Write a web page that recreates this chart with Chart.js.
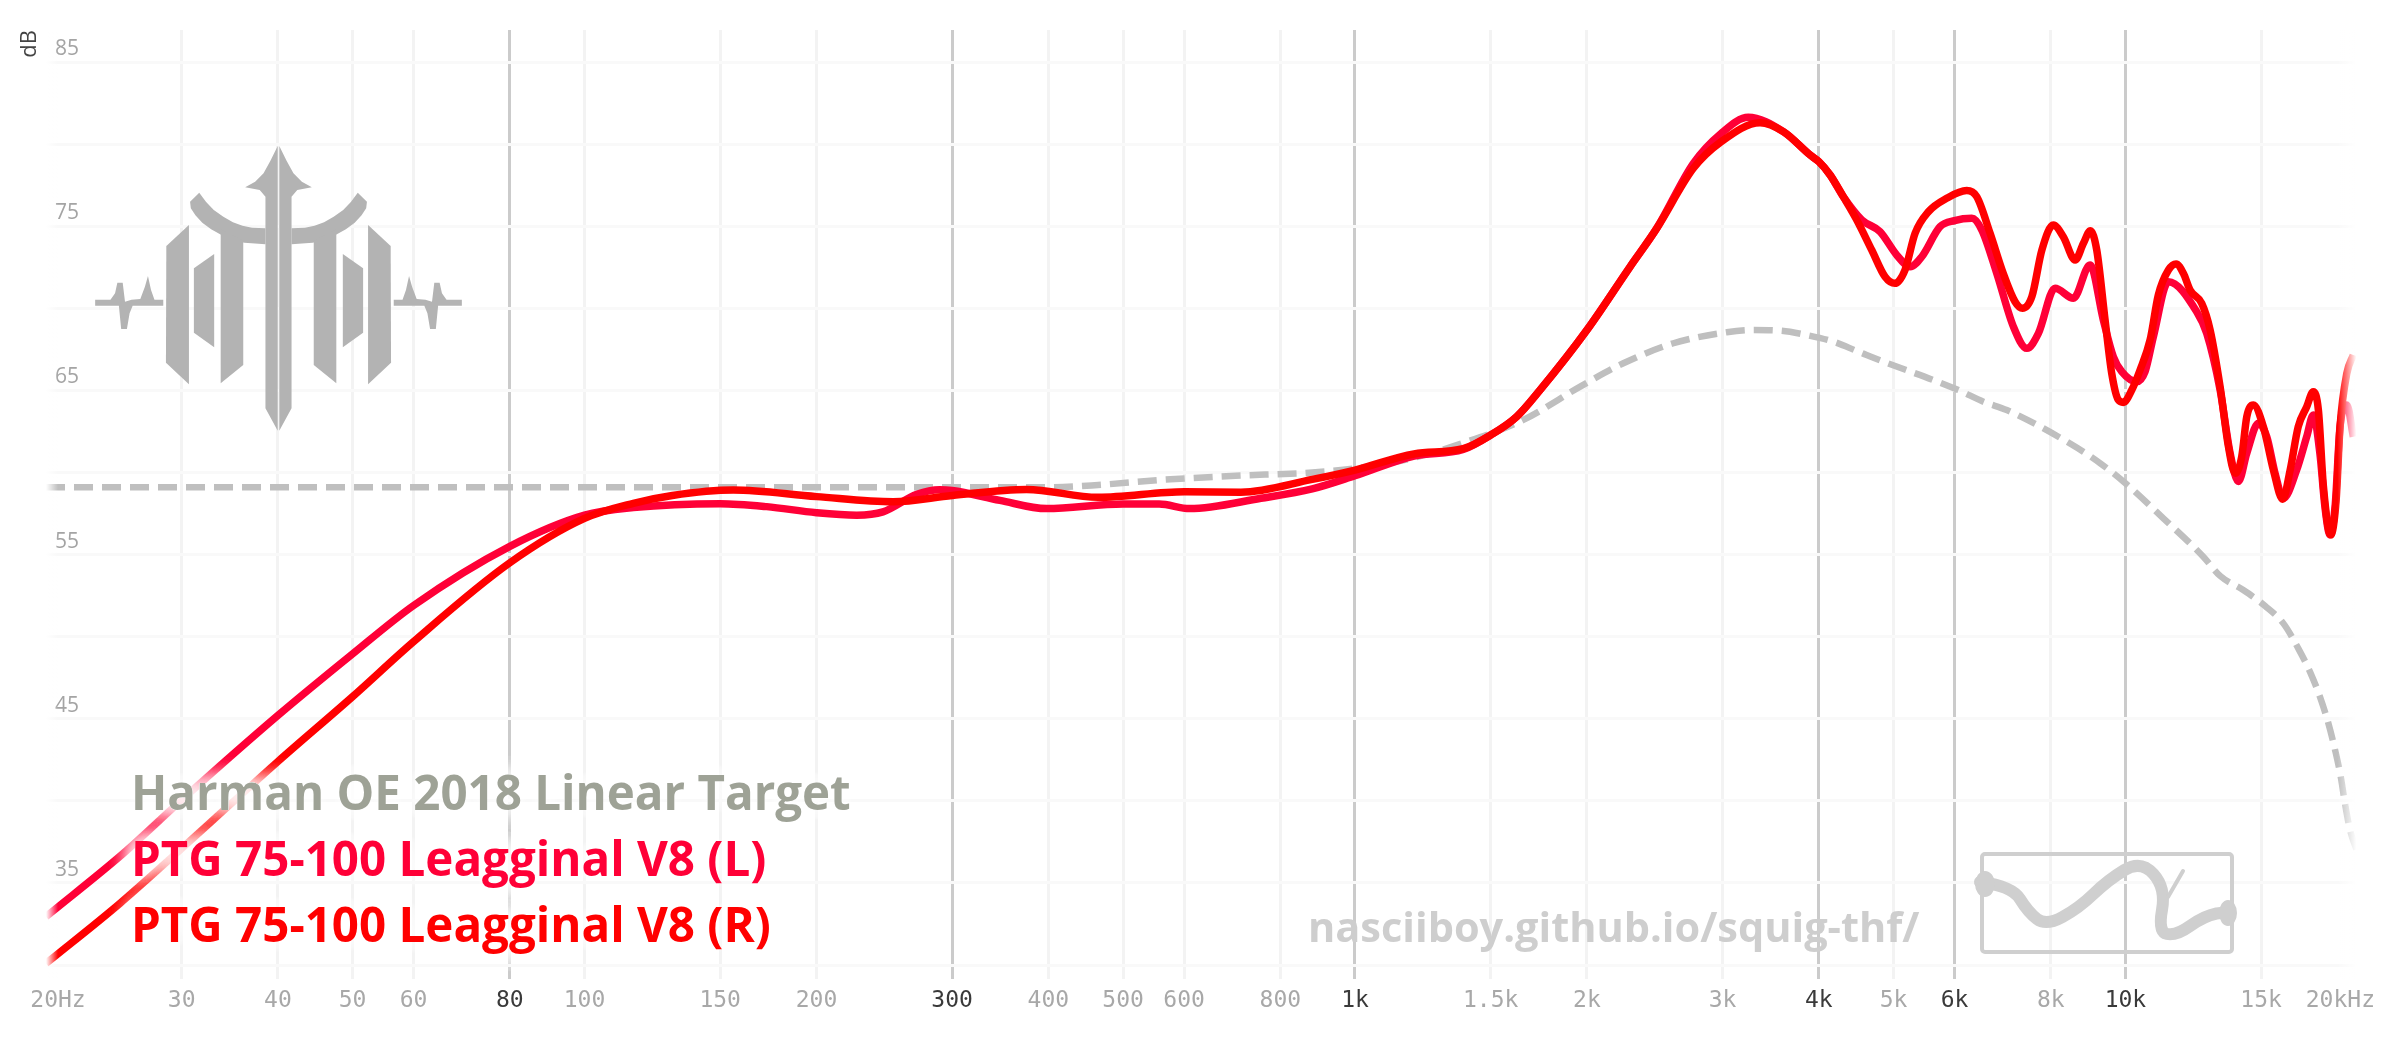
<!DOCTYPE html>
<html>
<head>
<meta charset="utf-8">
<title>PTG 75-100 Leagginal V8</title>
<style>
  html, body { margin: 0; padding: 0; background: #fff; }
  canvas { display: block; }
</style>
<script src="https://cdn.jsdelivr.net/npm/chart.js@4/dist/chart.umd.min.js"></script>
</head>
<body>
<canvas id="myChart" width="2400" height="1038"></canvas>
<script>
// series (Hz / dB)
const targetName = "Harman OE 2018 Linear Target";
const targetFreq = [20, 50, 100, 200, 400, 464, 557, 700, 880, 1000, 1193, 1382, 1654, 1960, 2230, 2590, 3038, 3289, 3562, 3858, 4177, 4500, 4850, 5633, 6069, 6540, 7014, 8484, 9275, 9938, 11200, 12620, 13270, 14220, 15180, 16030, 16760, 17360, 17880, 18340, 18710, 19030, 19270, 19570, 20000];
const targetDb = [59.1, 59.1, 59.1, 59.1, 59.1, 59.24, 59.54, 59.8, 60.0, 60.25, 60.9, 61.8, 63.2, 65.23, 66.65, 67.87, 68.54, 68.68, 68.64, 68.37, 67.97, 67.36, 66.75, 65.63, 65.02, 64.31, 63.8, 61.75, 60.56, 59.45, 57.21, 54.87, 53.7, 52.84, 51.87, 50.81, 49.29, 47.86, 46.35, 44.72, 43.1, 41.47, 39.85, 38.2, 36.9];

const leftName = "PTG 75-100 Leagginal V8 (L)";
const leftFreq = [20, 25.2, 30, 40, 50, 60, 80, 100, 115.7, 150, 172.3, 200, 225.5, 244, 270, 289, 300, 346, 398, 500, 557, 610, 755, 880, 1000, 1193, 1382, 1500, 1621, 1738, 2000, 2275, 2464, 2749, 2988, 3239, 3597, 3896, 4000, 4137, 4303, 4548, 4802, 5047, 5254, 5441, 5746, 6000, 6318, 6510, 6807, 7154, 7448, 7709, 8102, 8559, 8995, 9360, 9645, 9890, 10344, 10603, 10870, 11370, 12374, 12750, 13270, 13674, 14016, 14370, 14877, 15254, 15638, 16030, 16680, 17190, 17530, 17880, 18150, 18430, 18710, 18990, 19380, 19760];
const leftDb = [32.95, 36.8, 40.05, 45.2, 48.95, 51.9, 55.5, 57.4, 57.86, 58.1, 57.92, 57.55, 57.4, 57.6, 58.67, 58.95, 58.9, 58.3, 57.8, 58.08, 58.08, 57.8, 58.43, 59.0, 59.8, 61.0, 61.4, 62.28, 63.4, 65.02, 68.68, 72.53, 74.87, 78.83, 80.66, 81.63, 80.76, 79.34, 78.93, 78.12, 76.8, 75.38, 74.67, 73.25, 72.53, 73.14, 74.97, 75.34, 75.48, 74.77, 72.13, 68.88, 67.56, 68.47, 71.22, 70.61, 72.64, 69.29, 67.05, 66.14, 65.53, 66.14, 68.27, 71.62, 69.79, 68.47, 65.02, 61.17, 59.45, 61.17, 63.0, 62.18, 59.95, 58.43, 60.15, 62.18, 63.5, 61.17, 57.92, 56.2, 57.92, 62.79, 64.11, 62.18];

const rightName = "PTG 75-100 Leagginal V8 (R)";
const rightFreq = [20, 24.95, 30, 40, 50, 60, 80, 100, 115.7, 130, 156, 200, 251.6, 300, 374.7, 464, 601, 711, 880, 1000, 1193, 1382, 1500, 1621, 1738, 2000, 2275, 2464, 2749, 2988, 3355, 3597, 3896, 4000, 4137, 4303, 4480, 4685, 4875, 5021, 5174, 5333, 5549, 5861, 6223, 6412, 6673, 6940, 7190, 7350, 7560, 7790, 8060, 8305, 8604, 8820, 9005, 9178, 9409, 9598, 9790, 9938, 10190, 10447, 10764, 11033, 11370, 11633, 11890, 12130, 12560, 12880, 13270, 13605, 13880, 14155, 14370, 14655, 15100, 15560, 16000, 16360, 16760, 17190, 17530, 17800, 18070, 18470, 18770, 18990, 19380, 19760];
const rightDb = [30.1, 33.76, 37.1, 42.4, 46.35, 49.7, 54.5, 57.2, 58.12, 58.6, 58.93, 58.53, 58.22, 58.6, 58.97, 58.49, 58.83, 58.8, 59.58, 60.15, 61.13, 61.45, 62.28, 63.4, 65.02, 68.68, 72.53, 74.87, 78.53, 80.15, 81.3, 80.76, 79.34, 78.93, 78.12, 76.8, 75.38, 73.55, 71.92, 71.52, 72.33, 74.57, 75.88, 76.7, 77.17, 76.8, 74.57, 72.13, 70.4, 70.0, 70.71, 73.55, 75.07, 74.36, 72.94, 73.96, 74.73, 73.55, 69.29, 66.04, 64.42, 64.27, 65.02, 66.24, 68.07, 70.81, 72.33, 72.7, 72.13, 71.11, 70.3, 68.68, 65.22, 61.57, 59.95, 60.96, 63.4, 64.11, 62.79, 60.15, 58.37, 60.15, 62.79, 64.0, 64.92, 63.8, 59.14, 56.2, 58.33, 62.79, 66.04, 67.16];

// axes
const xTicks = [20, 30, 40, 50, 60, 80, 100, 150, 200, 300, 400, 500, 600, 800, 1000, 1500, 2000, 3000, 4000, 5000, 6000, 8000, 10000, 15000, 20000];
const xLabels = ["20Hz", "30", "40", "50", "60", "80", "100", "150", "200", "300", "400", "500", "600", "800", "1k", "1.5k", "2k", "3k", "4k", "5k", "6k", "8k", "10k", "15k", "20kHz"];
const xMajor = [80, 300, 1000, 4000, 6000, 10000];
const yTicks = [30, 35, 40, 45, 50, 55, 60, 65, 70, 75, 80, 85];
const yLabels = [35, 45, 55, 65, 75, 85];

function toPoints(freq, db) {
    return freq.map(function (f, i) { return { x: f, y: db[i] }; });
}

// polygons of the trident logo, left half only, given in crop pixels of the reference
const tridentParts = [
    [[727,438],[708,482],[690,520],[668,545],[642,562],[680,570],[695,590],[695,1225],[727,1292]],
    [[522,578],[540,606],[560,630],[585,650],[610,667],[635,677],[660,683],[695,685],[695,733],[640,728],[605,719],[580,705],[553,688],[530,668],[512,646],[500,625],[498,605]],
    [[578,688],[637,722],[637,1095],[578,1150]],
    [[495,675],[436,738],[435,1088],[495,1153]],
    [[561,762],[508,805],[508,998],[561,1042]],
    [[250,899],[290,899],[302,880],[308,848],[322,848],[328,905],[345,899],[368,897],[380,860],[388,828],[396,870],[405,899],[428,899],[428,917],[395,917],[375,917],[348,917],[340,940],[333,987],[318,987],[312,917],[295,917],[250,917]]
];

function drawTrident(ctx) {
    ctx.save();
    ctx.fillStyle = "#b3b3b3";
    [-1, 1].forEach(function (side) {
        tridentParts.forEach(function (part) {
            ctx.beginPath();
            part.forEach(function (p, i) {
                // mirrored around the 40Hz line, with a small gap left in the middle
                let dx = (727 - p[0]) / 2.613;
                let x = 278.5 + side * (dx + 0.8);
                let y = p[1] / 3;
                if (i == 0) ctx.moveTo(x, y); else ctx.lineTo(x, y);
            });
            ctx.closePath();
            ctx.fill();
        });
    });
    ctx.restore();
}

const squigglePts = [[1980,882],[2012,886],[2028,912],[2046,926],[2079,908],[2108,880],[2141,860],[2166,888],[2158,932],[2176,936],[2204,916],[2229,911]];

function drawSquigLogo(ctx) {
    ctx.save();
    ctx.strokeStyle = "#cfcfcf";
    ctx.lineWidth = 4;
    ctx.beginPath();
    ctx.roundRect(1982, 854, 250, 98, 3);
    ctx.stroke();
    ctx.lineWidth = 12;
    ctx.lineCap = "round";
    ctx.lineJoin = "round";
    ctx.beginPath();
    ctx.moveTo(squigglePts[0][0], squigglePts[0][1]);
    for (let i = 1; i < squigglePts.length - 1; i++) {
        let p = squigglePts[i], n = squigglePts[i + 1];
        ctx.quadraticCurveTo(p[0], p[1], (p[0] + n[0]) / 2, (p[1] + n[1]) / 2);
    }
    ctx.lineTo(2229, 912);
    ctx.stroke();
    ctx.fillStyle = "#cfcfcf";
    ctx.beginPath();
    ctx.ellipse(1985, 884, 10, 13, 0, 0, Math.PI * 2);
    ctx.ellipse(2228, 913, 9, 13, 0, 0, Math.PI * 2);
    ctx.fill();
    ctx.lineWidth = 4;
    ctx.beginPath();
    ctx.moveTo(2183, 871);
    ctx.lineTo(2168, 897);
    ctx.stroke();
    ctx.restore();
}

const decorPlugin = {
    id: "decor",
    beforeDraw(chart) {
        // the outer two x labels sit off their ticks in the original
        let items = chart.scales.x.getLabelItems(chart.chartArea);
        items[0].options.translation[0] += 12;
        items[items.length - 1].options.translation[0] -= 17;
    },
    beforeDatasetsDraw(chart) {
        let ctx = chart.ctx;
        drawTrident(ctx);
        drawSquigLogo(ctx);
        ctx.save();
        ctx.font = "bold 41.5px 'Open Sans'";
        ctx.fillStyle = "#cecece";
        ctx.textBaseline = "alphabetic";
        ctx.fillText("nasciiboy.github.io/squig-thf/", 1308, 942, 613);
        ctx.restore();
    },
    afterDatasetsDraw(chart) {
        let ctx = chart.ctx;
        let area = chart.chartArea;
        ctx.save();

        // curves fade out at both ends
        let fadeL = ctx.createLinearGradient(area.left, 0, area.left + 12, 0);
        fadeL.addColorStop(0, "rgba(255,255,255,1)");
        fadeL.addColorStop(1, "rgba(255,255,255,0)");
        ctx.fillStyle = fadeL;
        ctx.fillRect(area.left - 4, area.top, 16, area.bottom - area.top);
        let fadeR = ctx.createLinearGradient(area.right - 20, 0, area.right - 1, 0);
        fadeR.addColorStop(0, "rgba(255,255,255,0)");
        fadeR.addColorStop(1, "rgba(255,255,255,1)");
        ctx.fillStyle = fadeR;
        ctx.fillRect(area.right - 20, area.top, 24, area.bottom - area.top);

        // legend text with a white halo over the curves
        let names = [targetName, leftName, rightName];
        let baselines = [810, 876, 942];
        ctx.font = "bold 47.5px 'Open Sans'";
        ctx.textBaseline = "alphabetic";
        names.forEach(function (name, i) {
            ctx.shadowColor = "#fff";
            ctx.shadowBlur = 22;
            ctx.fillStyle = "#fff";
            for (let k = 0; k < 5; k++) ctx.fillText(name, 131, baselines[i]);
        });
        ctx.shadowBlur = 0;
        names.forEach(function (name, i) {
            ctx.fillStyle = chart.data.datasets[i].legendColor;
            ctx.fillText(name, 131, baselines[i]);
        });
        ctx.restore();
    }
};

var ctx = document.getElementById("myChart");

var myChart = new Chart(ctx, {
    type: "line",
    data: {
        datasets: [{
            label: targetName,
            data: toPoints(targetFreq, targetDb),
            borderColor: "#bfbfbf",
            legendColor: "#9ea296",
            borderWidth: 6.5,
            borderDash: [19, 9],
            order: 3
        }, {
            label: leftName,
            data: toPoints(leftFreq, leftDb),
            borderColor: "#ff0037",
            legendColor: "#ff0037",
            borderWidth: 7.5,
            order: 2
        }, {
            label: rightName,
            data: toPoints(rightFreq, rightDb),
            borderColor: "#ff0000",
            legendColor: "#ff0000",
            borderWidth: 7.5,
            order: 1
        }]
    },
    options: {
        responsive: false,
        animation: false,
        parsing: false,
        layout: { padding: { top: 30, right: 42.4, left: 0, bottom: 0 } },
        elements: {
            point: { radius: 0 },
            line: { cubicInterpolationMode: "monotone", borderCapStyle: "butt" }
        },
        plugins: { legend: { display: false }, tooltip: { enabled: false } },
        scales: {
            x: {
                type: "logarithmic",
                min: 20,
                max: 20000,
                afterBuildTicks: function (scale) {
                    scale.ticks = xTicks.map(function (v) { return { value: v }; });
                },
                afterFit: function (scale) { scale.height = 59; },
                border: { display: false },
                grid: {
                    drawTicks: false,
                    lineWidth: 3,
                    color: function (c) {
                        if (c.tick.value == 20 || c.tick.value == 20000) return "rgba(0,0,0,0)";
                        return xMajor.includes(c.tick.value) ? "#cbcbcb" : "#f3f3f3";
                    }
                },
                ticks: {
                    autoSkip: false,
                    maxRotation: 0,
                    padding: 8,
                    font: { family: "'DejaVu Sans Mono'", size: 23 },
                    color: function (c) {
                        return xMajor.includes(c.tick.value) ? "#3a3a3a" : "#a8a8a8";
                    },
                    callback: function (v, i) { return xLabels[i]; }
                }
            },
            y: {
                min: 29.15,
                max: 86.95,
                afterBuildTicks: function (scale) {
                    scale.ticks = yTicks.map(function (v) { return { value: v }; });
                },
                afterFit: function (scale) { scale.width = 46; },
                border: { display: false },
                title: {
                    display: true,
                    text: "dB",
                    align: "end",
                    color: "#444",
                    font: { family: "'Open Sans'", size: 22 },
                    padding: { top: 17, bottom: 0 }
                },
                grid: { drawTicks: false, lineWidth: 3, color: "#f9f9f9" },
                ticks: {
                    mirror: true,
                    padding: 9,
                    labelOffset: -13,
                    font: { family: "'Open Sans'", size: 21 },
                    color: "#a4a4a4",
                    callback: function (v) { return yLabels.includes(v) ? String(v) : ""; }
                }
            }
        }
    },
    plugins: [decorPlugin]
});
</script>
</body>
</html>
